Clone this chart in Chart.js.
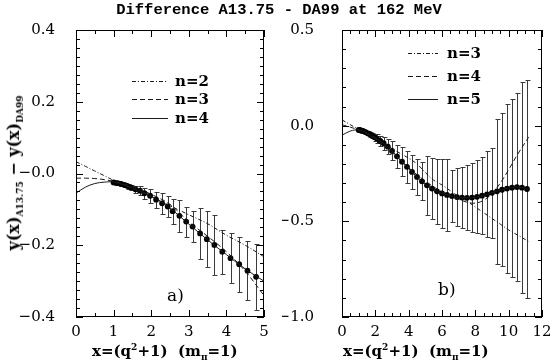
<!DOCTYPE html>
<html>
<head>
<meta charset="utf-8">
<script src="https://cdn.jsdelivr.net/npm/chart.js@4.4.1/dist/chart.umd.min.js"></script>
<style>
  html, body { margin: 0; padding: 0; background: #fff; overflow: hidden; }
  #wrap { position: relative; width: 550px; height: 364px; overflow: hidden; }
  canvas { position: absolute; left: 0; top: 0; }
  .txt { position: absolute; white-space: nowrap; color: #000; font-family: "DejaVu Serif", serif; }
  .bold { font-weight: bold; font-size: 15px; line-height: 18px; }
  .bold sub, .bold sup { font-size: 9px; }
  #title { left: 0; width: 558px; top: 1px; text-align: center; font-family: "Liberation Mono", monospace; font-weight: bold; font-size: 15.5px; }
  #ytitle { left: 17px; top: 173px; transform: translate(-50%, -50%) rotate(-90deg); font-size: 16px; }
  .panel { font-size: 17px; }
</style>
</head>
<body>
<div id="wrap">
  <canvas id="left" width="600" height="364"></canvas>
  <canvas id="right" width="600" height="364"></canvas>

  <div id="title" class="txt">Difference A13.75 - DA99 at 162 MeV</div>
  <div id="ytitle" class="txt bold">y(x)<sub>A13.75</sub> &minus; y(x)<sub>DA99</sub></div>
  <div class="txt bold" style="left:92px; top:338px;">x=(q<sup>2</sup>+1)&nbsp; (m<sub>&pi;</sub>=1)</div>
  <div class="txt bold" style="left:343px; top:338px;">x=(q<sup>2</sup>+1)&nbsp; (m<sub>&pi;</sub>=1)</div>

  <div class="txt bold" style="left:175px; top:72px;">n=2</div>
  <div class="txt bold" style="left:175px; top:90px;">n=3</div>
  <div class="txt bold" style="left:175px; top:109px;">n=4</div>
  <div class="txt bold" style="left:447px; top:44px;">n=3</div>
  <div class="txt bold" style="left:447px; top:67px;">n=4</div>
  <div class="txt bold" style="left:447px; top:90px;">n=5</div>

  <div class="txt panel" style="left:167px; top:285px;">a)</div>
  <div class="txt panel" style="left:438px; top:279px;">b)</div>
</div>

<script>
// ---- panel a) data ----
const aX   = [1.00, 1.05, 1.11, 1.20, 1.29, 1.37, 1.46, 1.58, 1.70, 1.82, 1.97, 2.13, 2.29, 2.44, 2.57,
              2.75, 2.93, 3.10, 3.30, 3.48, 3.68, 3.89, 4.11, 4.34, 4.56, 4.79];
const aY   = [-0.025, -0.026, -0.027, -0.029, -0.032, -0.035, -0.039, -0.044, -0.048, -0.055, -0.062, -0.073,
              -0.083, -0.092, -0.105, -0.118, -0.134, -0.148, -0.167, -0.183, -0.199, -0.218, -0.236, -0.253,
              -0.271, -0.288];
const aErr = [0.004, 0.004, 0.005, 0.005, 0.006, 0.007, 0.008, 0.010, 0.012, 0.015, 0.019, 0.022, 0.030,
              0.028, 0.035, 0.045, 0.042, 0.044, 0.070, 0.078, 0.084, 0.061, 0.070, 0.077, 0.083, 0.092];

const aFitX  = [0, 0.25, 0.5, 0.75, 1, 1.5, 2, 2.5, 3, 3.5, 4, 4.5, 5];
const aFitN2 = [0.033, 0.020, 0.007, -0.006, -0.019, -0.042, -0.065, -0.090, -0.115, -0.140, -0.172, -0.200, -0.232];
const aFitN3 = [-0.013, -0.013, -0.014, -0.017, -0.022, -0.036, -0.058, -0.086, -0.135, -0.175, -0.218, -0.272, -0.340];
const aFitN4 = [-0.055, -0.038, -0.028, -0.024, -0.024, -0.040, -0.063, -0.097, -0.141, -0.185, -0.226, -0.266, -0.300];

const aXTickLabels = ['0', '1', '2', '3', '4', '5'];
const aYTickLabels = ['\u22120.4', '\u22120.2', '\u22120.0', '0.2', '0.4'];

// ---- panel b) data ----
const bX   = [1.00, 1.05, 1.10, 1.17, 1.25, 1.34, 1.44, 1.55, 1.67, 1.80, 1.95, 2.10, 2.30, 2.50, 2.75,
              3.0, 3.3, 3.6, 3.9, 4.2, 4.5, 4.8, 5.1, 5.4, 5.7, 6.0, 6.3, 6.6, 6.9, 7.2, 7.5, 7.8, 8.1,
              8.4, 8.7, 9.0, 9.3, 9.6, 9.9, 10.2, 10.5, 10.8, 11.1];
const bY   = [-0.022, -0.023, -0.024, -0.026, -0.028, -0.031, -0.035, -0.040, -0.045, -0.052, -0.060, -0.068,
              -0.080, -0.092, -0.110, -0.132, -0.160, -0.188, -0.215, -0.242, -0.268, -0.291, -0.312, -0.329,
              -0.343, -0.354, -0.362, -0.368, -0.373, -0.376, -0.377, -0.376, -0.372, -0.366, -0.359, -0.351,
              -0.343, -0.335, -0.329, -0.324, -0.321, -0.324, -0.331];
const bErr = [0.004, 0.004, 0.005, 0.005, 0.006, 0.007, 0.008, 0.010, 0.012, 0.015, 0.018, 0.022, 0.027,
              0.033, 0.040, 0.050, 0.060, 0.075, 0.083, 0.088, 0.092, 0.100, 0.155, 0.160, 0.170, 0.180,
              0.190, 0.135, 0.150, 0.160, 0.170, 0.180, 0.190, 0.200, 0.225, 0.235, 0.380, 0.400, 0.440,
              0.465, 0.490, 0.550, 0.570];

const bFitX  = [0, 0.5, 1, 1.5, 2, 2.5, 3, 3.5, 4, 4.5, 5, 5.5, 6, 6.5, 7, 7.5, 8, 8.5, 9, 9.5, 10, 10.5, 11.2];
const bFitN3 = [0.030, 0.005, -0.020, -0.043, -0.068, -0.093, -0.120, -0.145, -0.170, -0.200, -0.245, -0.285,
                -0.310, -0.340, -0.370, -0.395, -0.425, -0.455, -0.485, -0.515, -0.545, -0.570, -0.605];
const bFitN4 = [0.005, -0.008, -0.022, -0.043, -0.070, -0.102, -0.140, -0.180, -0.220, -0.256, -0.290, -0.320,
                -0.345, -0.367, -0.385, -0.400, -0.405, -0.390, -0.355, -0.300, -0.230, -0.155, -0.060];
const bFitN5 = [-0.050, -0.028, -0.022, -0.038, -0.063, -0.092, -0.132, -0.179, -0.224, -0.268, -0.305, -0.334,
                -0.354, -0.366, -0.374, -0.377, -0.374, -0.365, -0.351, -0.337, -0.327, -0.321, -0.333];

const bXTickLabels = ['0', '2', '4', '6', '8', '10', '12'];
const bYTickLabels = ['\u22121.0', '\u22120.5', '0.0', '0.5'];

const pts = (xs, ys) => xs.map((x, i) => ({ x, y: ys[i] }));

Chart.defaults.font.family = '"DejaVu Serif", serif';
Chart.defaults.font.size = 15;
Chart.defaults.color = '#000';

// error bars under the points
const errorBars = {
    id: 'errorBars',
    beforeDatasetsDraw(chart) {
        const { ctx, scales: { x, y } } = chart;
        chart.data.datasets.forEach(ds => {
            if (!ds.errors) return;
            ctx.save();
            ctx.strokeStyle = '#3a3a3a';
            ctx.lineWidth = 1;
            ctx.beginPath();
            ds.data.forEach((p, i) => {
                const px = Math.round(x.getPixelForValue(p.x)) + 0.5;
                const top = Math.round(y.getPixelForValue(p.y + ds.errors[i])) + 0.5;
                const bot = Math.round(y.getPixelForValue(p.y - ds.errors[i])) + 0.5;
                ctx.moveTo(px, top); ctx.lineTo(px, bot);
                ctx.moveTo(px - 2, top); ctx.lineTo(px + 3, top);
                ctx.moveTo(px - 2, bot); ctx.lineTo(px + 3, bot);
            });
            ctx.stroke();
            ctx.restore();
        });
    }
};

// box frame with inward ticks on all four sides
const frame = {
    id: 'frame',
    afterDatasetsDraw(chart, args, o) {
        const { ctx, chartArea: a, scales: { x, y } } = chart;
        const on = (v, step) => Math.abs(v / step - Math.round(v / step)) < 1e-6;
        ctx.save();
        ctx.strokeStyle = '#000';
        ctx.lineWidth = 1;
        ctx.strokeRect(a.left + 0.5, a.top + 0.5, a.width - 1, a.height - 1);
        ctx.beginPath();
        for (let k = 0; x.min + k * o.xMinor <= x.max + 1e-9; k++) {
            const v = x.min + k * o.xMinor;
            const px = Math.round(x.getPixelForValue(v)) + 0.5;
            const len = on(v, o.xMajor) ? 7 : 4;
            ctx.moveTo(px, a.bottom); ctx.lineTo(px, a.bottom - len);
            ctx.moveTo(px, a.top); ctx.lineTo(px, a.top + len);
        }
        for (let k = 0; y.min + k * o.yMinor <= y.max + 1e-9; k++) {
            const v = y.min + k * o.yMinor;
            const py = Math.round(y.getPixelForValue(v)) + 0.5;
            const len = on(v, o.yMajor) ? 7 : 4;
            ctx.moveTo(a.left, py); ctx.lineTo(a.left + len, py);
            ctx.moveTo(a.right, py); ctx.lineTo(a.right - len, py);
        }
        ctx.stroke();
        ctx.restore();
    }
};

// line samples for the legend (text is html)
const legendSamples = {
    id: 'legendSamples',
    afterDraw(chart, args, o) {
        const { ctx } = chart;
        let row = 0;
        chart.data.datasets.forEach(ds => {
            if (!ds.showLine) return;
            const yy = o.ys[row++] + 0.5;
            ctx.save();
            ctx.strokeStyle = ds.borderColor;
            ctx.lineWidth = 1;
            ctx.setLineDash(ds.borderDash || []);
            ctx.beginPath();
            ctx.moveTo(o.x1, yy); ctx.lineTo(o.x2, yy);
            ctx.stroke();
            ctx.restore();
        });
    }
};

const DASHDOT = [4, 2, 1, 2];
const DASHED = [5, 3];

function fitLine(label, xs, ys, dash) {
    return {
        label, data: pts(xs, ys), showLine: true, borderColor: '#1a1a1a', borderWidth: 1,
        borderDash: dash, pointRadius: 0, tension: 0.35, fill: false
    };
}

function makePanel(id, cfg) {
    return new Chart(document.getElementById(id), {
        type: 'scatter',
        data: {
            datasets: [
                ...cfg.fits,
                {
                    label: 'data', data: pts(cfg.x, cfg.y), errors: cfg.err, showLine: false,
                    pointRadius: 2.9, pointBackgroundColor: '#000', pointBorderWidth: 0
                }
            ]
        },
        options: {
            responsive: false,
            animation: false,
            events: [],
            layout: { padding: cfg.padding },
            plugins: {
                legend: { display: false },
                tooltip: { enabled: false },
                frame: cfg.ticks,
                legendSamples: cfg.legend
            },
            scales: {
                x: {
                    type: 'linear', min: cfg.xRange[0], max: cfg.xRange[1],
                    grid: { display: false }, border: { display: false },
                    ticks: { stepSize: cfg.xStep, padding: -2, maxRotation: 0,
                             callback: (v, i) => cfg.xLabels[i] },
                    afterFit: s => { s.height = 30; }
                },
                y: {
                    type: 'linear', min: cfg.yRange[0], max: cfg.yRange[1],
                    grid: { display: false }, border: { display: false },
                    ticks: { stepSize: cfg.yStep, padding: cfg.yPad,
                             callback: (v, i) => cfg.yLabels[i] },
                    afterFit: s => { s.width = 60; }
                }
            }
        },
        plugins: [errorBars, frame, legendSamples]
    });
}

makePanel('left', {
    x: aX, y: aY, err: aErr,
    fits: [fitLine('n=2', aFitX, aFitN2, DASHDOT), fitLine('n=3', aFitX, aFitN3, DASHED), fitLine('n=4', aFitX, aFitN4, [])],
    xRange: [0, 5], yRange: [-0.4, 0.4], xStep: 1, yStep: 0.2,
    xLabels: aXTickLabels, yLabels: aYTickLabels, yPad: 13,
    padding: { left: 16, right: 336, top: 30, bottom: 17 },
    ticks: { xMinor: 0.5, xMajor: 1, yMinor: 0.025, yMajor: 0.2 },
    legend: { x1: 132, x2: 168, ys: [81, 99, 118] }
});

makePanel('right', {
    x: bX, y: bY, err: bErr,
    fits: [fitLine('n=3', bFitX, bFitN3, DASHDOT), fitLine('n=4', bFitX, bFitN4, DASHED), fitLine('n=5', bFitX, bFitN5, [])],
    xRange: [0, 12], yRange: [-1.0, 0.5], xStep: 2, yStep: 0.5,
    xLabels: bXTickLabels, yLabels: bYTickLabels, yPad: 20,
    padding: { left: 282, right: 58, top: 30, bottom: 17 },
    ticks: { xMinor: 0.5, xMajor: 2, yMinor: 0.1, yMajor: 0.5 },
    legend: { x1: 408, x2: 438, ys: [53, 76, 99] }
});
</script>
</body>
</html>
